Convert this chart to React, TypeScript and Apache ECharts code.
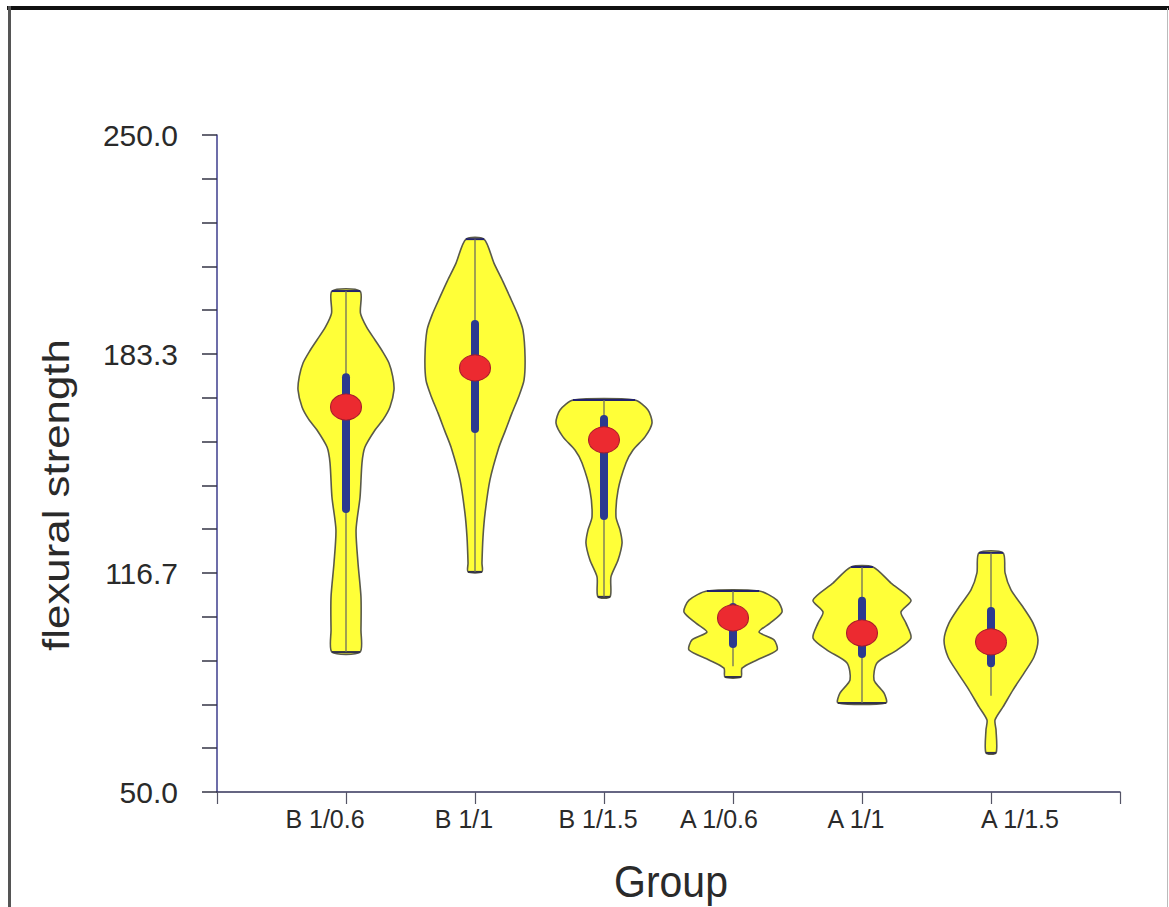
import React, { useEffect, useRef } from "react";
import * as echarts from "echarts";

// ---------------- data ----------------
const categories = ["B 1/0.6", "B 1/1", "B 1/1.5", "A 1/0.6", "A 1/1", "A 1/1.5"];
const yTickLabels = ["50.0", "116.7", "183.3", "250.0"];

const medians = [167.2, 179.1, 157.2, 103.0, 98.4, 95.7];
const q1 = [134.9, 159.3, 132.8, 93.8, 90.8, 88.0];
const q3 = [177.5, 193.7, 164.8, 107.5, 109.4, 106.3];
const whiskerLow = [92.6, 117.0, 109.4, 88.3, 77.1, 79.3];
const whiskerHigh = [202.5, 218.3, 169.3, 111.2, 118.5, 122.8];

// density profiles: [value, half-width in category units], top to bottom
const densityB06 = [
  [202.5, 0.109], [195.8, 0.112], [191.5, 0.16], [187.6, 0.225], [184.0, 0.285], [180.6, 0.333],
  [176.5, 0.362], [172.4, 0.372], [167.2, 0.341], [163.5, 0.29], [160.2, 0.225], [155.0, 0.147],
  [150.2, 0.124], [139.8, 0.109], [129.8, 0.078], [119.7, 0.093], [109.4, 0.116], [99.3, 0.116], [92.6, 0.109],
];
const densityB11 = [
  [218.3, 0.07], [211.0, 0.147], [205.5, 0.215], [200.7, 0.271], [195.5, 0.33], [190.6, 0.372],
  [182.4, 0.388], [175.4, 0.38], [170.5, 0.34], [165.4, 0.287], [160.0, 0.235], [155.0, 0.186],
  [145.0, 0.116], [134.9, 0.078], [127.6, 0.062], [119.7, 0.054], [117.0, 0.054],
];
const densityB115 = [
  [169.3, 0.24], [166.3, 0.341], [162.3, 0.372], [158.1, 0.318], [154.1, 0.225], [150.2, 0.171],
  [141.9, 0.109], [133.7, 0.093], [129.8, 0.124], [125.8, 0.14], [120.6, 0.109], [115.5, 0.054], [109.4, 0.047],
];
const densityA06 = [
  [111.2, 0.202], [108.4, 0.341], [104.8, 0.38], [101.4, 0.287], [98.7, 0.202], [96.3, 0.318],
  [93.2, 0.341], [90.2, 0.186], [87.7, 0.07], [85.0, 0.062],
];
const densityA11 = [
  [118.5, 0.085], [113.6, 0.225], [108.4, 0.38], [104.8, 0.302], [101.4, 0.341], [96.9, 0.38],
  [93.2, 0.271], [89.3, 0.116], [84.1, 0.093], [80.1, 0.171], [77.1, 0.186],
];
const densityA115 = [
  [122.8, 0.093], [116.7, 0.109], [111.5, 0.155], [106.3, 0.248], [101.4, 0.326], [96.3, 0.364],
  [91.1, 0.333], [86.2, 0.256], [81.1, 0.171], [75.9, 0.093], [71.9, 0.031], [68.9, 0.039], [61.9, 0.039],
];
const densities = [densityB06, densityB11, densityB115, densityA06, densityA11, densityA115];

// ---------------- layout / style ----------------
const FONT = "'Liberation Sans', Arial, Helvetica, sans-serif";
const labelShift = [-21, -11, -6, -14, -6, 29];

export default function App() {
  const ref = useRef<HTMLDivElement>(null);

  useEffect(() => {
    document.body.style.margin = "0";
    const chart = echarts.init(ref.current!, undefined, { renderer: "svg" });

    const rich: Record<string, any> = {};
    labelShift.forEach((s, i) => {
      rich["c" + i] = {
        fontSize: 25,
        fontFamily: FONT,
        color: "#2a2a2a",
        padding: s < 0 ? [0, -2 * s, 0, 0] : [0, 0, 0, 2 * s],
      };
    });

    const yStep = 200 / 15;

    const option: any = {
      animation: false,
      backgroundColor: "#ffffff",
      grid: { left: 217, right: 49, top: 135, bottom: 115, containLabel: false },
      xAxis: {
        type: "value",
        min: 0,
        max: 7,
        interval: 1,
        splitLine: { show: false },
        axisLine: { show: true, onZero: false, lineStyle: { color: "#33335a", width: 1.5 } },
        axisTick: { show: true, length: 12, lineStyle: { color: "#555566", width: 1.2 } },
        axisLabel: {
          margin: 14,
          fontSize: 25,
          fontFamily: FONT,
          color: "#2a2a2a",
          formatter: (v: number) => {
            const i = Math.round(v) - 1;
            if (i < 0 || i >= categories.length) return "";
            return `{c${i}|${categories[i]}}`;
          },
          rich,
        },
      },
      yAxis: {
        type: "value",
        min: 50,
        max: 250,
        interval: yStep,
        splitLine: { show: false },
        axisLine: { show: true, onZero: false, lineStyle: { color: "#3c3c8c", width: 1.5 } },
        axisTick: { show: true, length: 15, lineStyle: { color: "#333344", width: 1.5 } },
        axisLabel: {
          margin: 39,
          fontSize: 30,
          fontFamily: FONT,
          color: "#2a2a2a",
          formatter: (v: number) => {
            const k = (v - 50) / (200 / 3);
            const r = Math.round(k);
            if (Math.abs(k - r) < 1e-4 && r >= 0 && r < yTickLabels.length) return yTickLabels[r];
            return "";
          },
        },
      },
      series: [
        {
          type: "custom",
          name: "violin",
          data: categories.map((_, i) => [i + 1]),
          z: 2,
          renderItem: (params: any, api: any) => {
            const i = params.dataIndex;
            const xc = api.value(0);
            const prof = densities[i];
            const leftPts = prof.map(([v, w]) => api.coord([xc - w, v]));
            const rightPts = prof.slice().reverse().map(([v, w]) => api.coord([xc + w, v]));
            const top = prof[0];
            const bot = prof[prof.length - 1];
            const tl = api.coord([xc - top[1], top[0]]);
            const tr = api.coord([xc + top[1], top[0]]);
            const bl = api.coord([xc - bot[1], bot[0]]);
            const br = api.coord([xc + bot[1], bot[0]]);
            const wHi = api.coord([xc, whiskerHigh[i]]);
            const wLo = api.coord([xc, whiskerLow[i]]);
            const bHi = api.coord([xc, q3[i]]);
            const bLo = api.coord([xc, q1[i]]);
            return {
              type: "group",
              children: [
                {
                  type: "polygon",
                  shape: { points: leftPts.concat(rightPts), smooth: 0.25 },
                  style: { fill: "#ffff38", stroke: "#5a5a4a", lineWidth: 1.6 },
                },
                {
                  type: "line",
                  shape: { x1: tl[0], y1: tl[1], x2: tr[0], y2: tr[1] },
                  style: { stroke: "#22226e", lineWidth: 2 },
                },
                {
                  type: "line",
                  shape: { x1: bl[0], y1: bl[1], x2: br[0], y2: br[1] },
                  style: { stroke: "#33334a", lineWidth: 2 },
                },
                {
                  type: "line",
                  shape: { x1: wHi[0], y1: wHi[1], x2: wLo[0], y2: wLo[1] },
                  style: { stroke: "#6e6e5e", lineWidth: 1.3 },
                },
                {
                  type: "line",
                  shape: { x1: bHi[0], y1: bHi[1] + 4, x2: bLo[0], y2: bLo[1] - 4 },
                  style: { stroke: "#2b3a8f", lineWidth: 8, lineCap: "round" },
                },
              ],
            };
          },
        },
        {
          type: "scatter",
          name: "median",
          data: medians.map((m, i) => [i + 1, m]),
          symbol: "circle",
          symbolSize: [31, 26],
          z: 5,
          itemStyle: { color: "#ec2a30", borderColor: "#a81c2a", borderWidth: 1, opacity: 1 },
        },
      ],
      graphic: [
        {
          type: "line",
          shape: { x1: 7, y1: 8, x2: 1169, y2: 8 },
          style: { stroke: "#111111", lineWidth: 4 },
        },
        {
          type: "line",
          shape: { x1: 9.5, y1: 6, x2: 9.5, y2: 907 },
          style: { stroke: "#555555", lineWidth: 3 },
        },
        {
          type: "line",
          shape: { x1: 1167.5, y1: 8, x2: 1167.5, y2: 907 },
          style: { stroke: "#bbbbbb", lineWidth: 1 },
        },
        {
          type: "text",
          x: 56,
          y: 495,
          rotation: Math.PI / 2,
          scaleX: 1.185,
          style: {
            text: "flexural strength",
            fontSize: 37,
            fontFamily: FONT,
            fill: "#2a2a2a",
            align: "center",
            verticalAlign: "middle",
          },
        },
        {
          type: "text",
          x: 671,
          y: 881,
          scaleY: 1.1,
          style: {
            text: "Group",
            fontSize: 41,
            fontFamily: FONT,
            fill: "#2a2a2a",
            align: "center",
            verticalAlign: "middle",
          },
        },
      ],
    };

    chart.setOption(option);
    return () => chart.dispose();
  }, []);

  return <div ref={ref} style={{ width: 1169, height: 907 }} />;
}
